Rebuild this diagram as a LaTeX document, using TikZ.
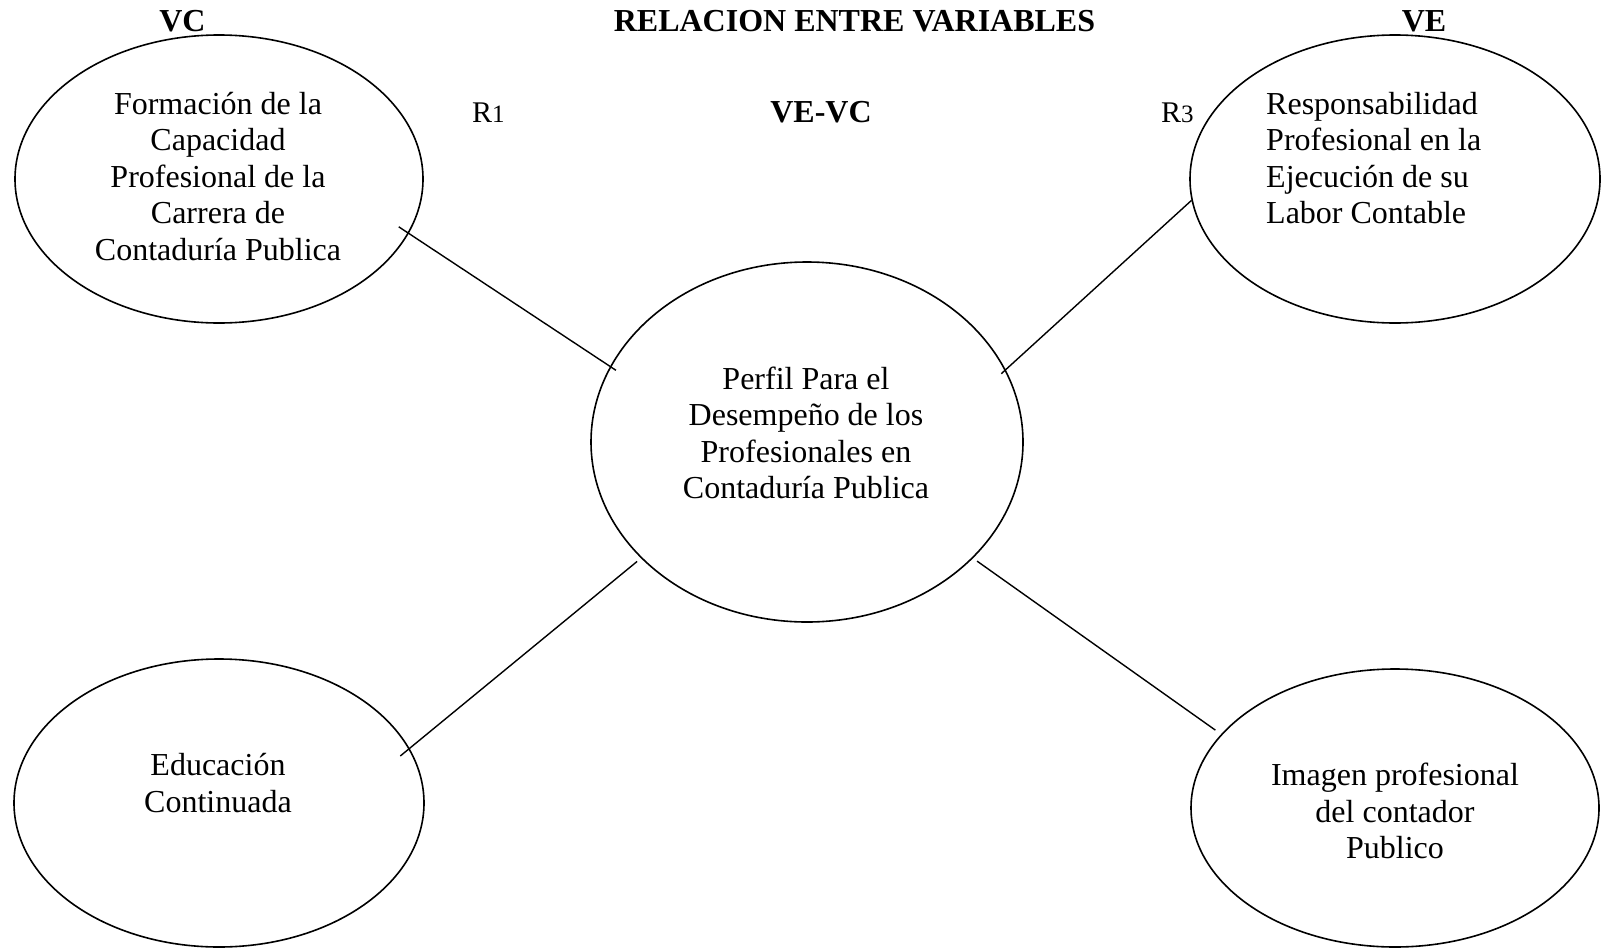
\documentclass[tikz,border=0pt]{standalone}
\usepackage{fontspec}
\setmainfont{Liberation Serif}
\usepackage{tikz}
\usetikzlibrary{shapes.geometric,positioning}

\begin{document}
\begin{tikzpicture}[
    x=1pt, y=-1pt,
    % Estilos
    elip/.style={draw, ellipse, line width=1.6pt, inner sep=0pt},
    txt/.style={font=\fontsize{32}{36.5}\selectfont, align=center, inner sep=0pt},
    tit/.style={font=\fontsize{32}{36}\selectfont\bfseries, inner sep=0pt, anchor=base},
    rlbl/.style={font=\fontsize{30}{36}\selectfont, inner sep=0pt, anchor=base west},
    link/.style={line width=1.4pt}
]
\useasboundingbox (0,0) rectangle (1604,948);

% --- ELIPSES ---
\node[elip, minimum width=408pt, minimum height=288pt] (formacion) at (219,179) {};
\node[elip, minimum width=410pt, minimum height=288pt] (responsab) at (1395,179) {};
\node[elip, minimum width=432pt, minimum height=360pt] (perfil)    at (807,442) {};
\node[elip, minimum width=410pt, minimum height=288pt] (educacion) at (219,803) {};
\node[elip, minimum width=408pt, minimum height=278pt] (imagen)    at (1395,808) {};

% --- TEXTOS ---
\node[txt] (formacion-t) at (218,176.5) {Formación de la\\Capacidad\\Profesional de la\\Carrera de\\Contaduría Publica};
\node[txt, align=left, anchor=west] (responsab-t) at (1266,158) {Responsabilidad\\Profesional en la\\Ejecución de su\\Labor Contable};
\node[txt] (perfil-t) at (806,433) {Perfil Para el\\Desempeño de los\\Profesionales en\\Contaduría Publica};
\node[txt] (educacion-t) at (218,783) {Educación\\Continuada};
\node[txt] (imagen-t) at (1395,811) {Imagen profesional\\del contador\\Publico};

% --- ENRUTADO (Conexiones) ---
\draw[link, shorten <=-12pt, shorten >=-7pt] (formacion.-16.6) -- (perfil.159.2);
\draw[link, shorten <=-6pt] (perfil.20.9) -- (responsab.186.5);
\draw[link, shorten <=-12pt, shorten >=5pt] (educacion.16.5) -- (perfil.215.8);
\draw[link, shorten <=5pt, shorten >=7pt] (perfil.-35.8) -- (imagen.157.1);

% --- ETIQUETADO ---
\node[tit] (vc)     at (182.5,31) {VC};
\node[tit] (titulo) at (854.5,31) {RELACION ENTRE VARIABLES};
\node[tit] (ve)     at (1424,31) {VE};
\node[tit] (vevc)   at (821,122) {VE-VC};
\node[rlbl] (r1) at (472,122) {R{\fontsize{25}{25}\selectfont 1}};
\node[rlbl] (r3) at (1161,122) {R{\fontsize{25}{25}\selectfont 3}};

\end{tikzpicture}
\end{document}
